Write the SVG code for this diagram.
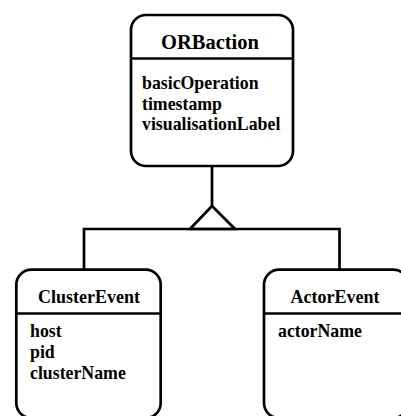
<svg xmlns="http://www.w3.org/2000/svg" width="401" height="416" viewBox="0 0 401 416">
<style>
.box{fill:#fff;stroke:#000;stroke-width:2.7}
.div{stroke:#000;stroke-width:2.7}
.conn{fill:none;stroke:#000;stroke-width:2.7}
text{font-family:'Liberation Serif','Times New Roman',Times,serif;font-weight:700;fill:#000}
.t1{font-size:20.5px}
.t2{font-size:18px}
.a{font-size:17.8px}
</style>
<rect width="401" height="416" fill="#fff"/>
<g id="connectors">
<line class="conn" x1="212" y1="166" x2="212" y2="206"/>
<polygon class="conn" points="212,206 190,229 235,229"/>
<polyline class="conn" points="84,270 84,229 339.5,229 339.5,270"/>
</g>
<g id="ORBaction">
<rect class="box" x="131" y="15" width="162" height="151" rx="15"/>
<line class="div" x1="131" y1="58.5" x2="293" y2="58.5"/>
<text class="t1" x="210" y="49" text-anchor="middle">ORBaction</text>
<text class="a" x="142" y="89">basicOperation</text>
<text class="a" x="142" y="109.5">timestamp</text>
<text class="a" x="142" y="130">visualisationLabel</text>
</g>
<g id="ClusterEvent">
<rect class="box" x="16.3" y="269.7" width="144.4" height="148.3" rx="15"/>
<line class="div" x1="16.3" y1="313.5" x2="160.7" y2="313.5"/>
<text class="t2" x="89" y="303" text-anchor="middle">ClusterEvent</text>
<text class="a" x="30" y="337">host</text>
<text class="a" x="30" y="358">pid</text>
<text class="a" x="30" y="379">clusterName</text>
</g>
<g id="ActorEvent">
<rect class="box" x="264" y="269.7" width="144.4" height="148.3" rx="15"/>
<line class="div" x1="264" y1="313.5" x2="408.4" y2="313.5"/>
<text class="t2" x="335" y="303" text-anchor="middle">ActorEvent</text>
<text class="a" x="278" y="337">actorName</text>
</g>
</svg>
